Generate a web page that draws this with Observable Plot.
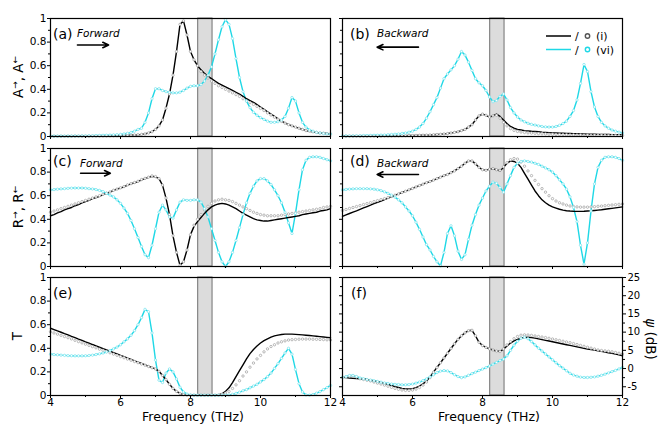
<!DOCTYPE html>
<html><head><meta charset="utf-8">
<script src="https://cdn.jsdelivr.net/npm/d3@7"></script>
<script src="https://cdn.jsdelivr.net/npm/@observablehq/plot@0.6"></script>
<style>
body{margin:0;background:#fff;}
#root{position:relative;width:664px;height:424px;font-family:"DejaVu Sans",sans-serif;overflow:hidden;}
#root svg{position:absolute;overflow:visible;}
</style></head><body><div id="root"></div>
<script>
// ---- sampling frequencies (THz) ----
const freq = [4.0,4.1,4.2,4.3,4.4,4.5,4.6,4.7,4.8,4.9,5.0,5.1,5.2,5.3,5.4,5.5,5.6,5.7,5.8,5.9,6.0,6.1,6.2,6.3,6.4,6.5,6.6,6.7,6.8,6.9,7.0,7.1,7.2,7.3,7.4,7.5,7.6,7.7,7.8,7.9,8.0,8.1,8.2,8.3,8.4,8.5,8.6,8.7,8.8,8.9,9.0,9.1,9.2,9.3,9.4,9.5,9.6,9.7,9.8,9.9,10.0,10.1,10.2,10.3,10.4,10.5,10.6,10.7,10.8,10.9,11.0,11.1,11.2,11.3,11.4,11.5,11.6,11.7,11.8,11.9,12.0];

// ---- (a) absorption, forward ----
const aBlack = [0.002,0.002,0.002,0.002,0.002,0.002,0.002,0.003,0.003,0.003,
 0.003,0.003,0.004,0.004,0.004,0.005,0.005,0.006,0.006,0.007,
 0.008,0.009,0.01,0.011,0.013,0.015,0.018,0.022,0.03,0.04,
 0.06,0.09,0.14,0.24,0.36,0.52,0.72,0.95,0.98,0.86,
 0.72,0.65,0.6,0.565,0.535,0.51,0.49,0.47,0.45,0.435,
 0.42,0.405,0.39,0.375,0.36,0.34,0.32,0.305,0.29,0.27,
 0.25,0.23,0.21,0.19,0.17,0.15,0.13,0.115,0.1,0.09,
 0.08,0.07,0.06,0.05,0.045,0.04,0.035,0.03,0.028,0.025,0.022];
const aGray = [0.002,0.002,0.002,0.002,0.002,0.002,0.002,0.003,0.003,0.003,
 0.003,0.003,0.004,0.004,0.004,0.005,0.005,0.006,0.006,0.007,
 0.008,0.009,0.01,0.011,0.013,0.015,0.018,0.022,0.03,0.04,
 0.06,0.09,0.14,0.24,0.36,0.52,0.72,0.95,0.98,0.86,
 0.72,0.65,0.6,0.55,0.52,0.495,0.47,0.45,0.43,0.415,
 0.4,0.385,0.37,0.355,0.34,0.32,0.302,0.287,0.272,0.255,
 0.238,0.22,0.2,0.182,0.164,0.146,0.128,0.113,0.1,0.09,
 0.08,0.07,0.06,0.05,0.045,0.04,0.035,0.03,0.028,0.025,0.022];
const aCyan = [0.003,0.003,0.003,0.004,0.004,0.004,0.005,0.005,0.005,0.006,
 0.006,0.007,0.007,0.008,0.009,0.01,0.011,0.012,0.014,0.016,
 0.018,0.022,0.027,0.034,0.045,0.06,0.07,0.12,0.2,0.32,
 0.405,0.405,0.39,0.38,0.375,0.37,0.37,0.375,0.39,0.41,
 0.425,0.43,0.43,0.44,0.47,0.52,0.59,0.7,0.82,0.93,
 0.99,0.95,0.83,0.66,0.5,0.38,0.3,0.245,0.205,0.18,
 0.16,0.145,0.13,0.12,0.12,0.125,0.14,0.17,0.24,0.33,
 0.3,0.2,0.12,0.08,0.055,0.045,0.035,0.03,0.025,0.022,0.02];

// ---- (b) absorption, backward ----
const bBlack = [0.003,0.003,0.003,0.003,0.003,0.003,0.003,0.003,0.004,0.004,
 0.004,0.004,0.005,0.005,0.005,0.006,0.006,0.007,0.007,0.008,
 0.008,0.009,0.01,0.011,0.012,0.013,0.015,0.017,0.019,0.022,
 0.025,0.03,0.035,0.04,0.05,0.06,0.08,0.1,0.14,0.175,
 0.19,0.18,0.165,0.175,0.19,0.17,0.14,0.11,0.085,0.07,
 0.06,0.055,0.05,0.047,0.044,0.042,0.04,0.037,0.035,0.033,
 0.031,0.03,0.028,0.027,0.026,0.025,0.024,0.023,0.022,0.021,
 0.02,0.019,0.019,0.018,0.018,0.017,0.017,0.016,0.016,0.015,0.015];
const bGray = [0.003,0.003,0.003,0.003,0.003,0.003,0.003,0.003,0.004,0.004,
 0.004,0.004,0.005,0.005,0.005,0.006,0.006,0.007,0.007,0.008,
 0.008,0.009,0.01,0.011,0.012,0.013,0.015,0.017,0.019,0.022,
 0.025,0.03,0.035,0.04,0.05,0.06,0.08,0.1,0.14,0.175,
 0.19,0.18,0.165,0.175,0.18,0.155,0.12,0.09,0.067,0.052,
 0.043,0.038,0.034,0.031,0.029,0.027,0.025,0.023,0.022,0.02,
 0.019,0.018,0.017,0.016,0.015,0.014,0.014,0.013,0.013,0.012,
 0.012,0.011,0.011,0.01,0.01,0.01,0.009,0.009,0.009,0.008,0.008];
const bCyan = [0.005,0.005,0.006,0.006,0.007,0.007,0.008,0.008,0.009,0.01,
 0.011,0.012,0.013,0.015,0.017,0.019,0.022,0.026,0.03,0.036,
 0.045,0.06,0.08,0.11,0.155,0.21,0.27,0.33,0.41,0.49,
 0.53,0.565,0.6,0.655,0.72,0.69,0.63,0.56,0.49,0.455,
 0.43,0.39,0.335,0.295,0.305,0.34,0.36,0.31,0.245,0.2,
 0.165,0.14,0.125,0.112,0.103,0.097,0.09,0.085,0.082,0.08,
 0.08,0.085,0.095,0.11,0.13,0.17,0.22,0.31,0.45,0.61,
 0.55,0.38,0.25,0.17,0.12,0.09,0.07,0.055,0.045,0.037,0.03];

// ---- (c) reflection, forward ----
const cBlack = [0.43,0.44,0.455,0.465,0.48,0.49,0.5,0.515,0.525,0.54,
 0.55,0.56,0.575,0.585,0.595,0.61,0.62,0.63,0.645,0.655,
 0.665,0.675,0.69,0.7,0.71,0.72,0.735,0.745,0.755,0.765,
 0.76,0.745,0.69,0.58,0.44,0.26,0.12,0.01,0.04,0.14,
 0.27,0.34,0.38,0.415,0.45,0.48,0.505,0.52,0.53,0.535,
 0.53,0.52,0.505,0.49,0.47,0.45,0.435,0.42,0.405,0.395,
 0.39,0.385,0.385,0.39,0.395,0.4,0.405,0.41,0.415,0.42,
 0.425,0.43,0.44,0.445,0.45,0.455,0.46,0.47,0.475,0.48,0.49];
const cGray = [0.46,0.47,0.48,0.49,0.5,0.51,0.52,0.53,0.54,0.55,
 0.56,0.57,0.58,0.59,0.6,0.612,0.622,0.632,0.646,0.656,
 0.667,0.677,0.692,0.702,0.712,0.722,0.737,0.747,0.757,0.768,
 0.762,0.745,0.69,0.58,0.44,0.26,0.12,0.01,0.04,0.14,
 0.27,0.35,0.4,0.44,0.48,0.51,0.535,0.555,0.565,0.57,
 0.565,0.56,0.55,0.535,0.52,0.505,0.49,0.475,0.46,0.45,
 0.44,0.435,0.43,0.43,0.43,0.43,0.435,0.44,0.445,0.45,
 0.455,0.46,0.465,0.47,0.475,0.48,0.485,0.49,0.5,0.505,0.51];
const cCyan = [0.65,0.652,0.655,0.658,0.66,0.662,0.664,0.665,0.665,0.665,
 0.663,0.66,0.657,0.652,0.645,0.635,0.62,0.605,0.59,0.565,
 0.535,0.495,0.45,0.39,0.32,0.245,0.17,0.1,0.075,0.18,
 0.32,0.46,0.52,0.48,0.42,0.41,0.48,0.545,0.565,0.56,
 0.56,0.565,0.565,0.545,0.49,0.42,0.32,0.22,0.12,0.04,
 0.0,0.04,0.12,0.22,0.33,0.44,0.54,0.62,0.68,0.725,
 0.745,0.745,0.725,0.695,0.65,0.6,0.54,0.46,0.37,0.28,
 0.45,0.65,0.82,0.9,0.925,0.93,0.93,0.925,0.915,0.905,0.895];

// ---- (d) reflection, backward ----
const dBlack = [0.425,0.437,0.449,0.461,0.472,0.484,0.496,0.508,0.52,0.532,
 0.544,0.555,0.567,0.579,0.591,0.603,0.615,0.627,0.638,0.65,
 0.662,0.674,0.686,0.698,0.71,0.72,0.732,0.745,0.757,0.77,
 0.78,0.795,0.81,0.83,0.85,0.875,0.895,0.895,0.87,0.84,
 0.82,0.815,0.825,0.83,0.82,0.81,0.84,0.875,0.895,0.89,
 0.875,0.84,0.79,0.74,0.69,0.64,0.6,0.565,0.54,0.52,
 0.505,0.495,0.485,0.478,0.473,0.47,0.468,0.467,0.467,0.468,
 0.47,0.472,0.475,0.478,0.481,0.485,0.489,0.493,0.497,0.501,0.505];
const dGray = [0.475,0.483,0.492,0.5,0.508,0.516,0.525,0.533,0.541,0.55,
 0.558,0.567,0.575,0.584,0.594,0.604,0.615,0.627,0.638,0.65,
 0.662,0.674,0.686,0.698,0.71,0.72,0.732,0.745,0.757,0.77,
 0.78,0.795,0.81,0.83,0.85,0.875,0.895,0.895,0.87,0.84,
 0.82,0.815,0.825,0.83,0.82,0.815,0.845,0.88,0.905,0.915,
 0.91,0.885,0.85,0.81,0.77,0.73,0.695,0.66,0.63,0.6,
 0.575,0.555,0.54,0.53,0.52,0.513,0.508,0.505,0.503,0.503,
 0.503,0.505,0.507,0.51,0.512,0.515,0.518,0.521,0.524,0.527,0.53];
const dCyan = [0.65,0.653,0.656,0.658,0.66,0.66,0.66,0.66,0.658,0.655,
 0.65,0.643,0.633,0.62,0.605,0.588,0.565,0.54,0.505,0.47,
 0.43,0.375,0.315,0.25,0.185,0.14,0.085,0.04,0.005,0.12,
 0.28,0.345,0.26,0.13,0.06,0.1,0.23,0.35,0.44,0.52,
 0.58,0.64,0.68,0.715,0.705,0.67,0.63,0.7,0.77,0.84,
 0.875,0.89,0.895,0.89,0.885,0.875,0.865,0.85,0.835,0.82,
 0.8,0.77,0.735,0.7,0.655,0.59,0.5,0.38,0.18,0.02,
 0.2,0.47,0.7,0.84,0.9,0.925,0.93,0.93,0.925,0.915,0.9];

// ---- (e) transmission ----
const eBlack = [0.57,0.559,0.547,0.536,0.524,0.513,0.501,0.49,0.478,0.467,
 0.455,0.444,0.432,0.421,0.409,0.398,0.386,0.375,0.363,0.352,
 0.34,0.329,0.317,0.306,0.294,0.283,0.271,0.26,0.248,0.237,
 0.225,0.205,0.17,0.135,0.095,0.06,0.035,0.018,0.008,0.004,
 0.002,0.002,0.002,0.002,0.002,0.002,0.002,0.002,0.005,0.015,
 0.035,0.065,0.11,0.16,0.21,0.26,0.31,0.355,0.39,0.42,
 0.445,0.465,0.48,0.495,0.505,0.512,0.517,0.52,0.52,0.52,
 0.518,0.516,0.514,0.511,0.508,0.505,0.502,0.499,0.496,0.493,0.49];
const eGray = [0.54,0.53,0.52,0.51,0.5,0.49,0.48,0.468,0.457,0.446,
 0.435,0.425,0.414,0.404,0.393,0.383,0.372,0.362,0.351,0.341,
 0.33,0.32,0.309,0.299,0.288,0.278,0.267,0.257,0.246,0.235,
 0.225,0.205,0.17,0.135,0.095,0.06,0.035,0.018,0.008,0.004,
 0.002,0.002,0.002,0.002,0.002,0.002,0.002,0.002,0.004,0.01,
 0.02,0.035,0.06,0.09,0.125,0.165,0.2,0.24,0.275,0.31,
 0.34,0.37,0.395,0.415,0.43,0.445,0.455,0.463,0.47,0.473,
 0.475,0.477,0.478,0.478,0.478,0.477,0.476,0.475,0.474,0.472,0.47];
const eCyan = [0.35,0.347,0.345,0.342,0.34,0.338,0.337,0.336,0.336,0.336,
 0.337,0.339,0.342,0.347,0.353,0.36,0.369,0.38,0.395,0.41,
 0.43,0.455,0.48,0.51,0.55,0.6,0.66,0.73,0.71,0.53,
 0.3,0.13,0.11,0.19,0.225,0.2,0.14,0.07,0.03,0.012,
 0.005,0.003,0.002,0.002,0.002,0.002,0.002,0.002,0.002,0.002,
 0.003,0.005,0.01,0.018,0.028,0.04,0.05,0.065,0.08,0.095,
 0.115,0.135,0.16,0.19,0.23,0.27,0.315,0.36,0.4,0.35,
 0.22,0.1,0.03,0.005,0.003,0.008,0.02,0.033,0.05,0.067,0.085];

// ---- (f) psi (dB) ----
const fBlack = [-2.4,-2.5,-2.6,-2.7,-2.75,-2.8,-2.85,-3.0,-3.2,-3.4,
 -3.6,-3.8,-4.05,-4.35,-4.65,-4.95,-5.2,-5.45,-5.6,-5.6,
 -5.5,-5.25,-4.8,-4.2,-3.4,-2.3,-1.0,0.3,1.6,2.9,
 4.2,5.5,6.8,8.0,9.0,9.8,10.4,10.5,9.0,7.2,
 6.3,5.8,5.4,5.1,4.8,4.7,5.3,6.2,7.0,7.6,
 8.0,8.35,8.55,8.6,8.5,8.35,8.15,7.95,7.75,7.55,
 7.35,7.15,6.95,6.75,6.55,6.35,6.15,5.95,5.75,5.55,
 5.35,5.2,5.05,4.9,4.75,4.55,4.35,4.15,3.95,3.75,3.5];
const fGray = [-2.4,-2.3,-2.1,-2.0,-2.3,-2.8,-3.0,-3.2,-3.4,-3.7,
 -4.0,-4.25,-4.55,-4.85,-5.15,-5.45,-5.7,-5.9,-6.0,-6.0,
 -5.9,-5.65,-5.2,-4.55,-3.7,-2.5,-1.0,0.3,1.6,2.9,
 4.2,5.5,6.8,8.0,9.0,9.8,10.4,10.5,9.0,7.2,
 6.3,5.8,5.4,5.1,4.8,4.7,5.4,6.5,7.4,8.2,
 8.8,9.15,9.25,9.2,9.1,8.95,8.8,8.65,8.5,8.3,
 8.1,7.9,7.7,7.5,7.3,7.1,6.85,6.6,6.35,6.1,
 5.85,5.6,5.35,5.1,4.95,4.85,4.75,4.6,4.4,4.2,4.0];
const fCyan = [-2.4,-2.2,-1.9,-1.9,-2.2,-2.6,-2.8,-3.0,-3.15,-3.35,
 -3.55,-3.75,-3.95,-4.1,-4.25,-4.35,-4.4,-4.45,-4.45,-4.4,
 -4.25,-4.0,-3.7,-3.3,-2.85,-2.3,-1.7,-1.1,-0.7,-0.55,
 -0.65,-1.1,-1.7,-2.2,-2.5,-2.3,-1.85,-1.4,-1.0,-0.55,
 -0.15,0.25,0.7,1.2,1.7,2.2,2.6,3.5,5.0,6.4,
 7.5,8.3,8.6,8.2,7.4,6.5,5.6,4.8,4.0,3.2,
 2.4,1.6,0.8,0.1,-0.6,-1.3,-1.8,-2.1,-2.35,-2.45,
 -2.45,-2.4,-2.3,-2.1,-1.85,-1.55,-1.2,-0.85,-0.5,-0.1,0.3];

// ---- ticks, band, annotations ----
const xMajor = [4,6,8,10,12], xMinor = [5,7,9,11];
const yMajor = [0,0.2,0.4,0.6,0.8,1], yMinor = [0.1,0.3,0.5,0.7,0.9];
const psiMajor = [-5,0,5,10,15,20,25], psiMinor = [-2.5,2.5,7.5,12.5,17.5,22.5];
const band = [{lo:8.22, hi:8.63}];
const arrows = {a:[{x1:4.77,x2:5.66,y:0.775}], b:[{x1:6.17,x2:4.99,y:0.757}],
                c:[{x1:4.86,x2:5.71,y:0.79}],  d:[{x1:6.17,x2:4.99,y:0.78}]};

const CYAN = "#1fd8e6", CYAN_DOT = "#7fe4ee", GRAY_DOT = "#a2a2a2";
const blank = () => "";
const root = document.getElementById("root");

const cols = [{left:0, width:334, mL:50, mR:4}, {left:334, width:330, mL:8, mR:42}];
const rowsL = [{top:0, height:140, mT:18, mB:4}, {top:140, height:130, mT:8, mB:4}, {top:270, height:154, mT:7, mB:29}];

const panels = [
  {id:"a", c:0, r:0, black:aBlack, gray:aGray, cyan:aCyan},
  {id:"b", c:1, r:0, black:bBlack, gray:bGray, cyan:bCyan},
  {id:"c", c:0, r:1, black:cBlack, gray:cGray, cyan:cCyan},
  {id:"d", c:1, r:1, black:dBlack, gray:dGray, cyan:dCyan},
  {id:"e", c:0, r:2, black:eBlack, gray:eGray, cyan:eCyan},
  {id:"f", c:1, r:2, black:fBlack, gray:fGray, cyan:fCyan, psi:true}
];

for (const p of panels) {
  const C = cols[p.c], R = rowsL[p.r];
  const data = freq.map((f,i) => ({f, k:p.black[i], g:p.gray[i], c:p.cyan[i]}));
  const bottom = p.r === 2, leftLab = p.c === 0;
  const marks = [
    Plot.rect(band, {x1:"lo", x2:"hi", fill:"#dcdcdc", stroke:"#707070", strokeWidth:1}),
    Plot.line(data, {x:"f", y:"c", stroke:CYAN, strokeWidth:1.4}),
    Plot.line(data, {x:"f", y:"k", stroke:"#000", strokeWidth:1.4}),
    Plot.dot(data, {x:"f", y:"g", r:1.2, stroke:GRAY_DOT, fill:"#fff", strokeWidth:0.75}),
    Plot.dot(data, {x:"f", y:"c", r:1.2, stroke:CYAN_DOT, fill:"#fff", strokeWidth:0.75}),
    Plot.axisX({ticks:xMajor, tickSize:3, tickPadding:0, tickFormat: bottom ? d => String(d) : blank, label:null, fontSize:10.5}),
    Plot.axisX({ticks:xMinor, tickSize:2, tickFormat:blank, label:null})
  ];
  if (p.psi) {
    marks.push(
      Plot.axisY({ticks:psiMajor, tickSize:3, tickFormat:blank, label:null}),
      Plot.axisY({ticks:psiMinor, tickSize:2, tickFormat:blank, label:null}),
      Plot.axisY({anchor:"right", ticks:psiMajor, tickSize:3, tickPadding:2, tickFormat:d => String(d), label:null, fontSize:10}),
      Plot.axisY({anchor:"right", ticks:psiMinor, tickSize:2, tickFormat:blank, label:null})
    );
  } else {
    marks.push(
      Plot.axisY({ticks:yMajor, tickSize:3, tickPadding:1, tickFormat: leftLab ? d => String(d) : blank, label:null, fontSize:10.5}),
      Plot.axisY({ticks:yMinor, tickSize:2, tickFormat:blank, label:null})
    );
  }
  if (arrows[p.id]) marks.push(Plot.arrow(arrows[p.id], {x1:"x1", x2:"x2", y1:"y", y2:"y", stroke:"#000", strokeWidth:1.6, headLength:6, headAngle:50}));
  marks.push(Plot.frame({stroke:"#000", strokeWidth:1.2}));
  const svg = Plot.plot({
    width:C.width, height:R.height,
    marginLeft:C.mL, marginRight:C.mR, marginTop:R.mT, marginBottom:R.mB,
    x:{domain:[4,12], label:null},
    y:{domain: p.psi ? [-7.4,25] : [0,1], label:null},
    style:{fontFamily:"DejaVu Sans", fontSize:"11px", color:"#000", background:"transparent", overflow:"visible"},
    marks
  });
  svg.style.left = C.left + "px";
  svg.style.top = R.top + "px";
  root.appendChild(svg);
}

// ---- overlay texts ----
const ov = d3.select(root).append("svg").attr("width",664).attr("height",424)
  .style("left","0px").style("top","0px").style("pointer-events","none")
  .attr("font-family","DejaVu Sans");

function ytitle(x, y, rot) {
  return ov.append("text").attr("transform", `translate(${x},${y}) rotate(${rot})`)
    .attr("text-anchor","middle").attr("font-size",13.5);
}
for (const [y, L] of [[77,"A"],[207,"R"]]) {
  const t = ytitle(23, y, -90);
  t.append("tspan").text(L);
  t.append("tspan").attr("font-size",9).attr("dy",-5).text("→");
  t.append("tspan").attr("dy",5).text(", " + L);
  t.append("tspan").attr("font-size",9).attr("dy",-5).text("←");
}
ytitle(22, 336, -90).text("T");
const psiT = ytitle(646, 339, 90);
psiT.append("tspan").attr("font-style","italic").text("ψ");
psiT.append("tspan").text(" (dB)");

for (const x of [193, 489]) {
  ov.append("text").attr("x",x).attr("y",420.5).attr("text-anchor","middle").attr("font-size",12.5).text("Frequency (THz)");
}

const labels = [
  {t:"(a)", x:53, y:38.5}, {t:"(b)", x:350, y:38.5},
  {t:"(c)", x:53, y:166}, {t:"(d)", x:350, y:166},
  {t:"(e)", x:53, y:298}, {t:"(f)", x:351, y:298}
];
for (const l of labels) ov.append("text").attr("x",l.x).attr("y",l.y).attr("font-size",14).text(l.t);
const dirs = [
  {t:"Forward", x:77, y:36.5}, {t:"Backward", x:377, y:37},
  {t:"Forward", x:80, y:166.5}, {t:"Backward", x:377, y:166.5}
];
for (const d of dirs) ov.append("text").attr("x",d.x).attr("y",d.y).attr("font-size",10.5).attr("font-style","italic").text(d.t);

// legend
const leg = [{y:36, stroke:"#000", dot:"#555", t:"(i)"}, {y:49.5, stroke:CYAN, dot:CYAN, t:"(vi)"}];
for (const l of leg) {
  ov.append("line").attr("x1",546).attr("x2",571).attr("y1",l.y).attr("y2",l.y).attr("stroke",l.stroke).attr("stroke-width",1.5);
  ov.append("text").attr("x",575).attr("y",l.y+4).attr("font-size",11).text("/");
  ov.append("circle").attr("cx",587.5).attr("cy",l.y).attr("r",2.2).attr("fill","#fff").attr("stroke",l.dot).attr("stroke-width",1.4);
  ov.append("text").attr("x",596).attr("y",l.y+4).attr("font-size",11).text(l.t);
}
</script>
</body></html>
